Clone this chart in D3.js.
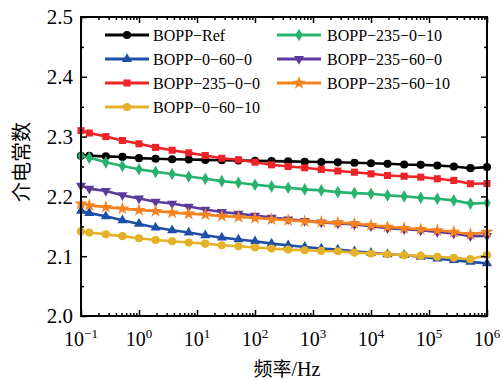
<!DOCTYPE html>
<html>
<head>
<meta charset="utf-8">
<script src="https://cdn.jsdelivr.net/npm/d3@7/dist/d3.min.js"></script>
<style>
  body { margin: 0; background: #fff; }
  svg text { font-family: "Liberation Serif", "Times New Roman", serif; fill: #000; }
</style>
</head>
<body>
<div id="chart"></div>
<script>
// frequency points (Hz)
const freq = [0.1, 0.139, 0.268, 0.518, 1, 1.93, 3.73, 7.2, 13.9, 26.8, 51.8, 100, 193, 373,
  720, 1390, 2680, 5180, 10000, 19300, 37300, 72000, 139000, 268000, 518000, 1000000];

const seriesNames = ['BOPP−Ref', 'BOPP−0−60−0', 'BOPP−235−0−0', 'BOPP−0−60−10',
  'BOPP−235−0−10', 'BOPP−235−60−0', 'BOPP−235−60−10'];

const ref = [2.268, 2.268, 2.267, 2.266, 2.264, 2.263, 2.2622, 2.2617, 2.261, 2.2605, 2.26, 2.2597, 2.259,
  2.2585, 2.258, 2.2575, 2.257, 2.2562, 2.2555, 2.2545, 2.2533, 2.2528, 2.2517, 2.25, 2.2472, 2.249];
const s0600 = [2.176, 2.172, 2.1667, 2.16, 2.154, 2.148, 2.1433, 2.1395, 2.135, 2.131, 2.128, 2.125, 2.121,
  2.1183, 2.1155, 2.1128, 2.111, 2.108, 2.1055, 2.1033, 2.1017, 2.099, 2.096, 2.0933, 2.0905, 2.088];
const s23500 = [2.31, 2.306, 2.3, 2.2935, 2.288, 2.282, 2.2772, 2.2728, 2.2683, 2.2638, 2.2612, 2.2572, 2.2528,
  2.25, 2.2478, 2.245, 2.2425, 2.2405, 2.2378, 2.235, 2.2338, 2.2322, 2.2295, 2.2267, 2.2212, 2.2215];
const s06010 = [2.1415, 2.1395, 2.1365, 2.1335, 2.13, 2.127, 2.125, 2.1228, 2.121, 2.1183, 2.1167, 2.1145, 2.1128,
  2.111, 2.11, 2.1088, 2.1083, 2.106, 2.1045, 2.1033, 2.1017, 2.1005, 2.099, 2.0972, 2.095, 2.102];
const s235010 = [2.268, 2.2645, 2.257, 2.251, 2.2455, 2.241, 2.2375, 2.2333, 2.2295, 2.2255, 2.2228, 2.2195, 2.2167,
  2.2145, 2.2117, 2.21, 2.2072, 2.2055, 2.2045, 2.2017, 2.2, 2.1978, 2.196, 2.1933, 2.188, 2.189];
const s235600 = [2.218, 2.213, 2.209, 2.202, 2.1965, 2.191, 2.188, 2.183, 2.178, 2.174, 2.171, 2.168, 2.1645,
  2.1617, 2.159, 2.1565, 2.1548, 2.153, 2.15, 2.147, 2.145, 2.1433, 2.1405, 2.138, 2.1335, 2.134];
const s2356010 = [2.188, 2.185, 2.182, 2.1795, 2.177, 2.1755, 2.1728, 2.171, 2.1695, 2.167, 2.1655, 2.1638, 2.1617,
  2.16, 2.1583, 2.157, 2.156, 2.1545, 2.1517, 2.149, 2.147, 2.145, 2.1433, 2.1405, 2.1367, 2.1405];

const yTicks = [2.0, 2.1, 2.2, 2.3, 2.4, 2.5];
const xTickExp = [-1, 0, 1, 2, 3, 4, 5, 6];

const width = 503, height = 380;
const margin = { left: 81, right: 16, top: 17, bottom: 64 };

const colors = ['#000000', '#1d4fa6', '#ee2227', '#e4b128', '#27b36f', '#5a3b9b', '#f5821f'];
const shapes = ['circle', 'triUp', 'square', 'circle', 'diamond', 'triDown', 'star'];
const allValues = [ref, s0600, s23500, s06010, s235010, s235600, s2356010];

const svg = d3.select('#chart').append('svg')
  .attr('width', width)
  .attr('height', height);

const x = d3.scaleLog().domain([0.1, 1e6]).range([margin.left, width - margin.right]);
const y = d3.scaleLinear().domain([2.0, 2.5]).range([height - margin.bottom, margin.top]);

const plotW = width - margin.left - margin.right;
const plotH = height - margin.top - margin.bottom;

// minor ticks on the log axis
const minorX = [];
for (let e = -1; e < 6; e++) {
  for (let m = 2; m <= 9; m++) minorX.push(m * Math.pow(10, e));
}
const majorX = xTickExp.map(e => Math.pow(10, e));
const minorY = d3.range(2.05, 2.5, 0.1);

function drawAxes() {
  const axisG = svg.append('g').attr('class', 'axes');
  const bottom = height - margin.bottom;

  // major x ticks, bottom and top
  axisG.append('g').attr('transform', `translate(0,${bottom})`)
    .call(d3.axisBottom(x).tickValues(majorX).tickSize(-6).tickFormat(''));
  axisG.append('g').attr('transform', `translate(0,${bottom})`)
    .call(d3.axisBottom(x).tickValues(minorX).tickSize(-3).tickFormat(''));
  axisG.append('g').attr('transform', `translate(0,${margin.top})`)
    .call(d3.axisTop(x).tickValues(majorX).tickSize(-6).tickFormat(''));
  axisG.append('g').attr('transform', `translate(0,${margin.top})`)
    .call(d3.axisTop(x).tickValues(minorX).tickSize(-3).tickFormat(''));

  // y ticks, left and right
  axisG.append('g').attr('transform', `translate(${margin.left},0)`)
    .call(d3.axisLeft(y).tickValues(yTicks).tickSize(-6).tickFormat(''));
  axisG.append('g').attr('transform', `translate(${margin.left},0)`)
    .call(d3.axisLeft(y).tickValues(minorY).tickSize(-3).tickFormat(''));
  axisG.append('g').attr('transform', `translate(${width - margin.right},0)`)
    .call(d3.axisRight(y).tickValues(yTicks).tickSize(-6).tickFormat(''));
  axisG.append('g').attr('transform', `translate(${width - margin.right},0)`)
    .call(d3.axisRight(y).tickValues(minorY).tickSize(-3).tickFormat(''));

  axisG.selectAll('.domain').remove();
  axisG.selectAll('.tick line').attr('stroke', '#000').attr('stroke-width', 1.5);

  // frame
  axisG.append('rect')
    .attr('x', margin.left).attr('y', margin.top)
    .attr('width', plotW).attr('height', plotH)
    .attr('fill', 'none').attr('stroke', '#000').attr('stroke-width', 2);

  // y labels
  svg.append('g').selectAll('text').data(yTicks).enter().append('text')
    .attr('x', margin.left - 8)
    .attr('y', d => y(d))
    .attr('dy', '0.35em')
    .attr('text-anchor', 'end')
    .style('font-size', '21px')
    .text(d => d.toFixed(1));

  // x labels with superscript exponent
  const xl = svg.append('g').selectAll('text').data(xTickExp).enter().append('text')
    .attr('x', d => x(Math.pow(10, d)))
    .attr('y', bottom + 30)
    .attr('text-anchor', 'middle')
    .style('font-size', '20px');
  xl.append('tspan').text('10');
  xl.append('tspan')
    .attr('dy', '-8')
    .style('font-size', '13px')
    .text(d => d < 0 ? '−' + Math.abs(d) : d);

  // axis titles
  const xt = svg.append('text')
    .attr('x', margin.left + plotW / 2 + 3)
    .attr('y', 376)
    .attr('text-anchor', 'middle')
    .style('font-size', '20px');
  xt.append('tspan').style('font-family', '"Noto Sans CJK SC"').style('font-size', '19px').text('频率');
  xt.append('tspan').text('/Hz');

  svg.append('text')
    .attr('transform', `translate(29,${margin.top + 145}) rotate(-90)`)
    .attr('text-anchor', 'middle')
    .style('font-family', '"Noto Sans CJK SC"')
    .style('font-size', '20px')
    .text('介电常数');
}

function symbolPath(shape) {
  if (shape === 'circle') return d3.symbol().type(d3.symbolCircle).size(52)();
  if (shape === 'square') return d3.symbol().type(d3.symbolSquare).size(50)();
  if (shape === 'diamond') return d3.symbol().type(d3.symbolDiamond).size(46)();
  if (shape === 'star') return d3.symbol().type(d3.symbolStar).size(55)();
  return d3.symbol().type(d3.symbolTriangle).size(44)();
}

function drawSeries() {
  const line = d3.line()
    .x((d, i) => x(freq[i]))
    .y(d => y(d));

  allValues.forEach((vals, k) => {
    const g = svg.append('g').attr('class', 'series');
    g.append('path')
      .datum(vals)
      .attr('d', line)
      .attr('fill', 'none')
      .attr('stroke', colors[k])
      .attr('stroke-width', 2.6);

    g.selectAll('path.mk').data(vals).enter().append('path')
      .attr('class', 'mk')
      .attr('d', symbolPath(shapes[k]))
      .attr('transform', (d, i) => `translate(${x(freq[i])},${y(d)})` + (shapes[k] === 'triDown' ? ' rotate(180)' : ''))
      .attr('fill', colors[k]);
  });
}

function drawLegend() {
  const cols = [{ x: 105, tx: 153 }, { x: 277, tx: 327 }];
  const rows = [35, 59, 83, 107];
  // order in legend: column 1 then column 2
  const pos = [[0, 0], [0, 1], [0, 2], [0, 3], [1, 0], [1, 1], [1, 2]];
  const lg = svg.append('g').attr('class', 'legend');

  seriesNames.forEach((name, k) => {
    const c = cols[pos[k][0]], ry = rows[pos[k][1]];
    lg.append('line')
      .attr('x1', c.x).attr('x2', c.x + 44)
      .attr('y1', ry).attr('y2', ry)
      .attr('stroke', colors[k]).attr('stroke-width', 3);
    lg.append('path')
      .attr('d', symbolPath(shapes[k]))
      .attr('transform', `translate(${c.x + 22},${ry})` + (shapes[k] === 'triDown' ? ' rotate(180)' : ''))
      .attr('fill', colors[k]);
    lg.append('text')
      .attr('x', c.tx).attr('y', ry)
      .attr('dy', '0.35em')
      .style('font-size', '16px')
      .text(name);
  });
}

drawSeries();
drawAxes();
drawLegend();
</script>
</body>
</html>
